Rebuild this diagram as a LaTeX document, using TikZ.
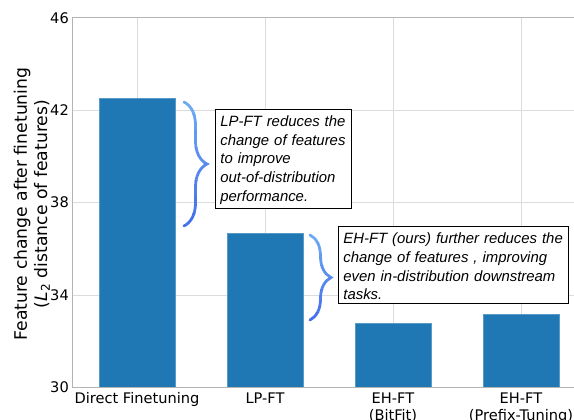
\documentclass[tikz,border=0pt]{standalone}
\usepackage{fontspec}
\setmainfont{DejaVu Sans}
\newfontfamily\notefont{Liberation Sans}
\usetikzlibrary{decorations.pathreplacing}

\definecolor{barblue}{HTML}{1F77B4}
\definecolor{gridgray}{HTML}{DCDCDC}
\definecolor{spinegray}{HTML}{B4B4B4}
\definecolor{bracelight}{RGB}{110,170,242}
\definecolor{bracedark}{RGB}{70,112,236}

\tikzset{
  gridline/.style={draw=gridgray, line width=0.8pt},
  spine/.style={draw=spinegray, line width=1pt},
  barrect/.style={fill=barblue, draw=barblue!75!white, line width=0.5pt},
  ticklab/.style={font=\fontsize{14.6}{17}\selectfont, inner sep=0pt},
  axislab/.style={font=\fontsize{17.2}{20}\selectfont, inner sep=0pt, rotate=90, anchor=base},
  notebox/.style={draw=black, line width=0.8pt, fill=white, align=left,
    font=\notefont\itshape\fontsize{14.9}{18.8}\selectfont,
    inner xsep=5pt, inner ysep=3.5pt, anchor=north west},
  curly/.style={decorate, decoration={brace, amplitude=#1}, line width=2.8pt, line cap=round},
}

% brace whose colour runs from light (top) to dark (bottom)
\newcommand\gradbrace[4]{% x, top, bottom, amplitude
  \foreach \k in {0,...,7}{
    \pgfmathsetmacro\ya{#2-4+\k*(#3-#2+8)/8}
    \pgfmathsetmacro\yb{#2-4+(\k+1)*(#3-#2+8)/8}
    \pgfmathtruncatemacro\mixp{100-\k*100/7}
    \begin{scope}
      \clip (#1-10,\ya) rectangle (#1+#4+10,\yb);
      \draw[curly=#4pt, draw=bracelight!\mixp!bracedark] (#1,#2) -- (#1,#3);
    \end{scope}
  }
}

\begin{document}
\begin{tikzpicture}[x=1pt, y=-1pt]
  \useasboundingbox (0,0) rectangle (574,420);
  \clip (0,0) rectangle (574,420);

  % grid
  \foreach \gy in {110.3,202.6,294.9}
    \draw[gridline] (72,\gy) -- (590,\gy);
  \foreach \gx in {137,265,393,521}
    \draw[gridline] (\gx,17.7) -- (\gx,387);

  % bars
  \fill[barrect] (99,98.5) rectangle (175,387);
  \fill[barrect] (227,233) rectangle (303,387);
  \fill[barrect] (355,323) rectangle (431,387);
  \fill[barrect] (483,314) rectangle (559,387);

  % spines
  \draw[spine] (72,17.7) -- (590,17.7);
  \draw[spine] (72,17.7) -- (72,387) -- (590,387);

  % y tick labels
  \node[ticklab, anchor=east] (t46) at (69,17.7) {46};
  \node[ticklab, anchor=east] (t42) at (69,110.3) {42};
  \node[ticklab, anchor=east] (t38) at (69,202.6) {38};
  \node[ticklab, anchor=east] (t34) at (69,294.9) {34};
  \node[ticklab, anchor=east] (t30) at (69,387) {30};

  % x tick labels
  \node[ticklab, anchor=base] (x1) at (137,403) {Direct Finetuning};
  \node[ticklab, anchor=base] (x2) at (265,403) {LP-FT};
  \node[ticklab, anchor=base] (x3) at (393,403) {EH-FT};
  \node[ticklab, anchor=base] (x3b) at (393,420.5) {(BitFit)};
  \node[ticklab, anchor=base] (x4) at (521,403) {EH-FT};
  \node[ticklab, anchor=base] (x4b) at (521,420.5) {(Prefix-Tuning)};

  % axis label
  \node[axislab] (yl1) at (27,204) {Feature change after finetuning};
  \node[axislab] (yl2) at (47,204) {({\itshape L}\textsubscript{2} distance of features)};

  % braces
  \gradbrace{184}{102}{226}{23}
  \gradbrace{310}{235}{320}{21}

  % notes
  \node[notebox, text width=126pt] (n1) at (215,109)
    {\rule{0pt}{13.5pt}LP-FT reduces the\\change of features\\to improve\\out-of-distribution\\performance.};
  \node[notebox, text width=220pt] (n2) at (338,226)
    {\rule{0pt}{13.5pt}EH-FT (ours) further reduces the\\change of features , improving\\even in-distribution downstream\\tasks.};
\end{tikzpicture}
\end{document}
